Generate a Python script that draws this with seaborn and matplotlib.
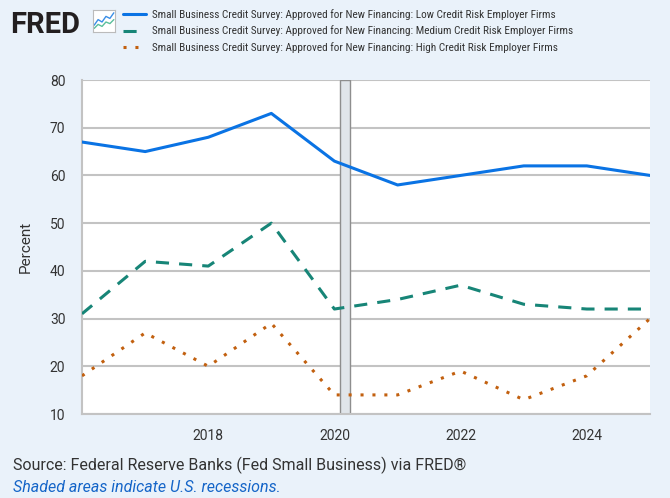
import numpy as np
import pandas as pd
import matplotlib
matplotlib.use("Agg")
import matplotlib.pyplot as plt
import seaborn as sns

# --- data (annual, Jan 1) ---
years = [2016, 2017, 2018, 2019, 2020, 2021, 2022, 2023, 2024, 2025]
low_risk = [67, 65, 68, 73, 63, 58, 60, 62, 62, 60]
medium_risk = [31, 42, 41, 50, 32, 34, 37, 33, 32, 32]
high_risk = [18, 27, 20, 29, 14, 14, 19, 13, 18, 30]

series_names = [
    "Small Business Credit Survey: Approved for New Financing: Low Credit Risk Employer Firms",
    "Small Business Credit Survey: Approved for New Financing: Medium Credit Risk Employer Firms",
    "Small Business Credit Survey: Approved for New Financing: High Credit Risk Employer Firms",
]
series_colors = ["#0A73E4", "#178577", "#C2600F"]
series_dashes = ["", (4.3, 3.3), (1.0, 2.9)]

recession_start = "2020-02-01"
recession_end = "2020-04-01"

y_ticks = [10, 20, 30, 40, 50, 60, 70, 80]
x_tick_labels = ["2018", "2020", "2022", "2024"]

icon_x = [0, 1, 2, 3, 4, 5]
icon_blue = [1.2, 2.6, 2.0, 3.4, 2.9, 4.3]
icon_green = [0.4, 1.4, 0.9, 2.0, 1.6, 2.6]

BG = "#EAF2FA"
GRID = "#C3C3C3"
TXT = "#333333"

sns.set_style("white")
plt.rcParams["font.family"] = ["Roboto", "DejaVu Sans"]

dates = pd.to_datetime([f"{y}-01-01" for y in years])
df = pd.DataFrame({
    "date": list(dates) * 3,
    "value": low_risk + medium_risk + high_risk,
    "series": [series_names[0]] * len(years) + [series_names[1]] * len(years)
              + [series_names[2]] * len(years),
})

fig = plt.figure(figsize=(6.70, 4.98), dpi=100, facecolor=BG)
ax = fig.add_axes([82 / 670, 1 - 414 / 498, 568 / 670, 334 / 498])
ax.set_facecolor("white")

# recession shading
ax.axvspan(pd.Timestamp(recession_start), pd.Timestamp(recession_end),
           facecolor="#E0E5EA", edgecolor="#8E8E8E", lw=1.0, zorder=1)

sns.lineplot(
    data=df, x="date", y="value", hue="series", style="series",
    hue_order=series_names, style_order=series_names,
    palette=dict(zip(series_names, series_colors)),
    dashes=dict(zip(series_names, series_dashes)),
    linewidth=2.2, legend=False, ax=ax, zorder=3,
)
for line in ax.lines[:3]:
    line.set_dash_capstyle("butt")

ax.set_xlim(pd.Timestamp("2016-01-01"), pd.Timestamp("2025-01-01"))
ax.set_ylim(10, 80)
ax.set_yticks(y_ticks)
ax.set_xticks(pd.to_datetime([f"{t}-01-01" for t in x_tick_labels]))
ax.set_xticklabels(x_tick_labels)

ax.yaxis.grid(True, color=GRID, lw=1.5, zorder=0)
ax.xaxis.grid(False)
for side in ["top", "right"]:
    ax.spines[side].set_visible(False)
ax.spines["left"].set_color(GRID)
ax.spines["left"].set_linewidth(1.5)
ax.spines["bottom"].set_color(GRID)
ax.spines["bottom"].set_linewidth(1.5)

ax.tick_params(axis="y", length=0, pad=12, labelsize=10, labelcolor=TXT)
ax.tick_params(axis="x", length=5, width=1, color="#C9D8EA", pad=6,
               labelsize=10, labelcolor=TXT)
ax.set_xlabel("")
ax.set_ylabel("Percent", fontsize=11, color=TXT, labelpad=12)

# legend at top
fig.legend(
    handles=ax.lines[:3], labels=series_names,
    loc="upper left", bbox_to_anchor=(123 / 670, 1 - 9 / 498),
    frameon=False, borderpad=0, borderaxespad=0,
    handlelength=2.0, handletextpad=0.6, labelspacing=0.5,
    prop={"family": ["Liberation Sans Narrow", "Roboto Condensed", "DejaVu Sans"],
          "size": 8.15},
    labelcolor=TXT,
)

# FRED logo
fig.text(10 / 670, 1 - 33 / 498, "FRED", fontsize=21, fontweight="bold",
         color="#231F20", ha="left", va="baseline")
icon = fig.add_axes([93 / 670, 1 - 32 / 498, 22 / 670, 22 / 498])
icon.set_facecolor("white")
icon.plot(icon_x, icon_blue, color="#3A8EE6", lw=1.0)
icon.plot(icon_x, icon_green, color="#5BBF9C", lw=1.0)
icon.set_xlim(-0.3, 5.3)
icon.set_ylim(-0.5, 5)
icon.set_xticks([])
icon.set_yticks([])
for s in icon.spines.values():
    s.set_color("#BBBBBB")
    s.set_linewidth(0.8)

# footer
fig.text(13 / 670, 1 - 470 / 498, "Source: Federal Reserve Banks (Fed Small Business) via FRED\u00ae",
         fontsize=11.5, color=TXT, ha="left", va="baseline")
fig.text(13 / 670, 1 - 492 / 498, "Shaded areas indicate U.S. recessions.",
         fontsize=11.5, color="#1565C8", style="italic", ha="left", va="baseline")

fig.savefig("out.png", dpi=100, facecolor=BG)
